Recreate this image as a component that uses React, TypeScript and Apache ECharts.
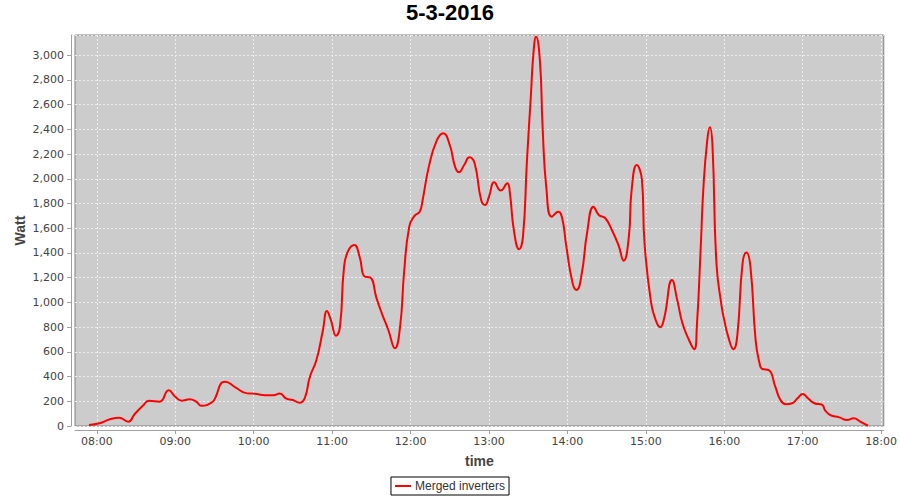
import React, { useEffect, useRef } from "react";
import * as echarts from "echarts";

const chartTitle = "5-3-2016";
const seriesName = "Merged inverters";
const xAxisName = "time";
const yAxisName = "Watt";

// sample times (HH:MM)
const times = [
  "07:54", "08:02", "08:10", "08:17", "08:24", "08:29", "08:35", "08:40", "08:48", "08:55",
  "09:00", "09:05", "09:11", "09:16", "09:20", "09:28", "09:31", "09:35", "09:38", "09:46",
  "09:55", "10:00", "10:09", "10:15", "10:20", "10:25", "10:30", "10:35", "10:39", "10:43",
  "10:48", "10:53", "10:56", "10:59", "11:03", "11:06", "11:09", "11:12", "11:17", "11:21",
  "11:25", "11:29", "11:34", "11:38", "11:43", "11:48", "11:52", "11:55", "11:59", "12:03",
  "12:07", "12:09", "12:14", "12:20", "12:25", "12:30", "12:34", "12:37", "12:41", "12:45",
  "12:49", "12:54", "12:57", "13:00", "13:04", "13:09", "13:14", "13:16", "13:19", "13:23",
  "13:26", "13:29", "13:32", "13:34", "13:36", "13:39", "13:41", "13:44", "13:48", "13:53",
  "13:56", "13:59", "14:04", "14:07", "14:11", "14:15", "14:20", "14:24", "14:29", "14:34",
  "14:39", "14:43", "14:47", "14:49", "14:53", "14:57", "14:59", "15:04", "15:08", "15:11",
  "15:14", "15:20", "15:24", "15:28", "15:33", "15:37", "15:39", "15:42", "15:44", "15:47",
  "15:49", "15:51", "15:54", "15:58", "16:00", "16:03", "16:07", "16:10", "16:14", "16:17",
  "16:20", "16:24", "16:27", "16:29", "16:34", "16:39", "16:43", "16:47", "16:52", "16:56",
  "17:00", "17:04", "17:09", "17:15", "17:17", "17:21", "17:28", "17:34", "17:39", "17:44",
  "17:50",
];

// power in Watt
const watts = [
  8, 22, 54, 67, 35, 97, 162, 205, 197, 289,
  237, 205, 216, 197, 164, 191, 237, 345, 358, 313,
  264, 262, 248, 248, 262, 221, 210, 189, 224, 399,
  534, 777, 930, 858, 731, 804, 1271, 1411, 1465, 1370,
  1208, 1203, 1033, 912, 777, 629, 804, 1236, 1613, 1700,
  1734, 1815, 2099, 2309, 2369, 2274, 2099, 2053, 2112, 2174,
  2126, 1829, 1789, 1856, 1972, 1905, 1964, 1883, 1586, 1430,
  1532, 2139, 2665, 3016, 3150, 2948, 2422, 1910, 1694, 1734,
  1681, 1465, 1155, 1101, 1236, 1560, 1775, 1708, 1681, 1586,
  1465, 1338, 1532, 1896, 2112, 1991, 1479, 998, 844, 799,
  871, 1182, 1020, 831, 696, 621, 804, 1451, 1923, 2315,
  2417, 2260, 1317, 966, 858, 723, 621, 736, 1317, 1403,
  1290, 691, 507, 461, 453, 318, 210, 176, 184, 224,
  259, 224, 184, 170, 129, 89, 70, 49, 62, 35,
  2,
];

// hour tick labels
const hourTicks = ["08:00", "09:00", "10:00", "11:00", "12:00", "13:00", "14:00", "15:00", "16:00", "17:00", "18:00"];

const toMinutes = (s: string) => {
  const [h, m] = s.split(":").map(Number);
  return h * 60 + m;
};
const fmtMinutes = (v: number) => {
  const h = Math.floor(v / 60);
  const m = Math.round(v - h * 60);
  return `${String(h).padStart(2, "0")}:${String(m).padStart(2, "0")}`;
};

export default function App() {
  const ref = useRef<HTMLDivElement>(null);
  useEffect(() => {
    if (!ref.current) return;
    const chart = echarts.init(ref.current, null, { renderer: "svg" });
    const data = times.map((t, i) => [toMinutes(t), watts[i]]);
    const hourValues = hourTicks.map(toMinutes);
    const axisGray = "#a0a0a0";
    chart.setOption({
      animation: false,
      backgroundColor: "#ffffff",
      title: {
        text: chartTitle,
        left: "center",
        top: 1,
        padding: 0,
        textStyle: {
          fontFamily: "Liberation Sans",
          fontWeight: "bold",
          fontSize: 22,
          color: "#000000",
        },
      },
      legend: {
        data: [seriesName],
        left: "center",
        top: 477,
        padding: [3, 4],
        borderColor: "#000000",
        borderWidth: 1,
        icon: "rect",
        itemWidth: 16,
        itemHeight: 2,
        itemGap: 4,
        textStyle: {
          fontFamily: "Liberation Sans",
          fontSize: 12,
          color: "#333333",
          padding: [0, 0, 0, -1],
        },
      },
      grid: {
        left: 75,
        top: 35,
        width: 813,
        height: 391,
        show: true,
        backgroundColor: "#cccccc",
        borderColor: "#808080",
        borderWidth: 1,
      },
      xAxis: {
        type: "value",
        min: 463.3,
        max: 1082,
        offset: 4,
        name: xAxisName,
        nameLocation: "middle",
        nameGap: 24,
        nameTextStyle: {
          fontFamily: "Liberation Sans",
          fontWeight: "bold",
          fontSize: 14,
          color: "#444444",
        },
        axisLine: { show: true, onZero: false, lineStyle: { color: axisGray, width: 1 } },
        axisTick: {
          show: true,
          length: 4,
          customValues: hourValues,
          lineStyle: { color: axisGray },
        },
        axisLabel: {
          customValues: hourValues,
          margin: 6,
          fontFamily: "DejaVu Sans",
          fontSize: 11,
          color: "#444444",
          formatter: (v: number) => fmtMinutes(v),
        },
        splitLine: {
          show: true,
          lineStyle: { color: "#eeeeee", type: [2, 2], width: 1 },
        },
      },
      yAxis: {
        type: "value",
        min: 0,
        max: 3164,
        interval: 200,
        offset: 4,
        name: yAxisName,
        nameLocation: "middle",
        nameRotate: 90,
        nameGap: 44,
        nameMoveOverlap: false,
        nameTextStyle: {
          fontFamily: "Liberation Sans",
          fontWeight: "bold",
          fontSize: 14,
          color: "#444444",
        },
        axisLine: { show: true, lineStyle: { color: axisGray, width: 1 } },
        axisTick: { show: true, length: 4, lineStyle: { color: axisGray } },
        axisLabel: {
          showMaxLabel: false,
          margin: 7,
          fontFamily: "DejaVu Sans",
          fontSize: 11,
          color: "#444444",
          formatter: (v: number) => (v % 200 === 0 ? v.toLocaleString("en-US") : ""),
        },
        splitLine: {
          show: true,
          lineStyle: { color: "#eeeeee", type: [2, 2], width: 1 },
        },
      },
      series: [
        {
          name: seriesName,
          type: "line",
          data,
          smooth: 0.5,
          showSymbol: false,
          symbol: "none",
          lineStyle: { color: "#ff0000", width: 2 },
          itemStyle: { color: "#ff0000" },
        },
      ],
    });
    return () => chart.dispose();
  }, []);
  return (
    <div
      ref={ref}
      style={{ position: "fixed", left: 0, top: 0, width: 900, height: 500 }}
    />
  );
}
